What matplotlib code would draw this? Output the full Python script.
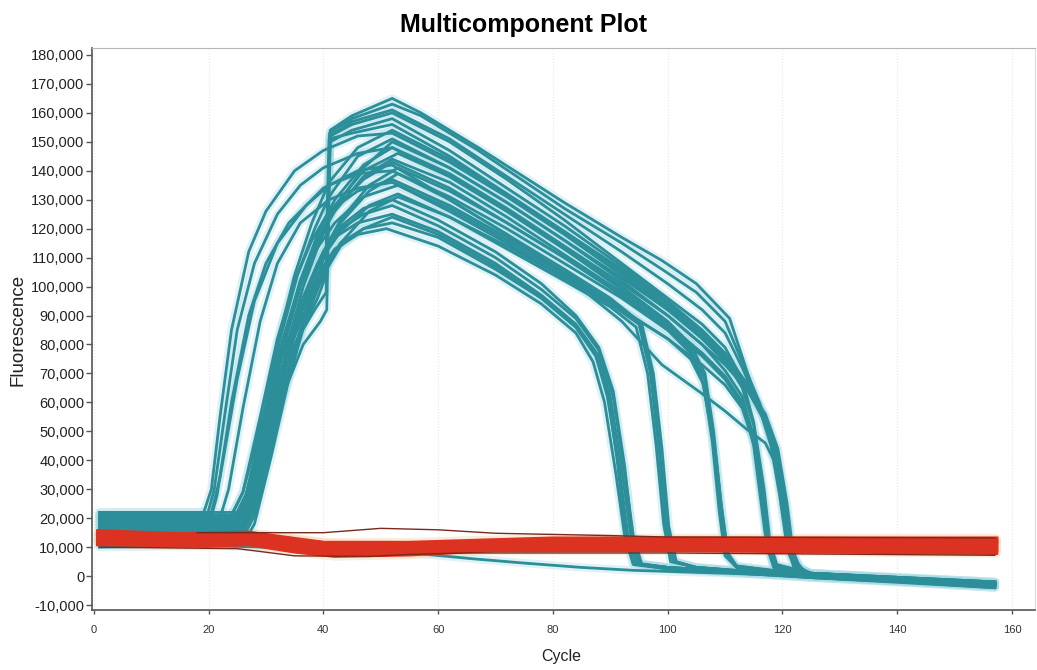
import matplotlib.pyplot as plt
from matplotlib.ticker import FuncFormatter

plt.rcParams['font.family'] = ['Liberation Sans', 'DejaVu Sans']

# every curve is a list of (cycle, fluorescence in thousands) points

# amplified wells that collapse near cycle 92-95
group_a_curves = [
    [(1, 16), (25, 16), (27, 22), (30, 45), (33, 70), (36, 90), (39, 104), (42, 113), (46, 118), (51, 120), (60, 114), (70, 104), (78, 94), (84, 84), (87, 74), (89, 60), (91, 35), (92.5, 14), (94, 4), (100, 2.5), (125, -0.5), (157, -3.5)],
    [(1, 18), (26, 18), (28, 25), (31, 48), (34, 72), (37, 92), (40, 106), (43, 115), (47, 120), (52, 122), (60, 117), (70, 106), (78, 96), (84, 86), (87.5, 76), (89.5, 62), (91.5, 38), (93, 15), (94.5, 4.5), (100, 3), (125, 0), (157, -3)],
    [(1, 14), (25, 14), (27, 21), (30, 46), (33, 73), (36, 94), (39, 108), (42, 117), (46, 122), (52, 125), (60, 119), (70, 108), (78, 97), (84, 87), (88, 76), (90, 62), (92, 37), (93.5, 15), (95, 4), (100, 2.5), (125, -0.5), (157, -4)],
    [(1, 20), (26, 20), (28, 28), (31, 52), (34, 78), (37, 98), (40, 112), (43, 120), (47, 125), (52, 128), (60, 121), (70, 110), (78, 99), (84, 89), (88, 78), (90.5, 62), (92.5, 36), (94, 14), (95.5, 4), (100, 3), (125, 0), (157, -2.5)],
    [(1, 11), (26, 11), (28, 18), (31, 42), (34, 68), (37, 89), (40, 104), (43, 114), (47, 120), (52, 124), (60, 118), (70, 107), (78, 96), (84, 86), (87.5, 76), (89.5, 64), (91.2, 40), (92.6, 16), (94, 4.5), (100, 3), (125, 0), (157, -4)],
    [(1, 17), (25.5, 17), (27.5, 24), (30.5, 48), (33.5, 74), (36.5, 95), (39.5, 110), (42.5, 120), (47, 127), (52, 130), (60, 123), (70, 112), (78, 101), (84, 90), (88, 79), (90.5, 64), (92.5, 38), (93.8, 15), (95.3, 4), (100, 3), (125, 0), (157, -3)],
]

# collapse near cycle 98-101
group_b_curves = [
    [(1, 17), (20, 17), (21.5, 28), (24, 60), (27, 90), (30, 108), (34, 122), (40, 134), (46, 140), (52, 142), (62, 130), (72, 118), (82, 106), (90, 96), (95, 88), (97, 72), (98.5, 45), (99.8, 18), (101, 5), (105, 3), (125, 0), (157, -3)],
    [(1, 19), (24.5, 19), (26.5, 27), (29.5, 52), (32.5, 78), (35.5, 98), (38.5, 112), (42, 122), (47, 131), (53, 135), (62, 126), (72, 115), (82, 103), (90, 94), (95, 87), (97, 70), (98.5, 44), (99.7, 17), (101, 5), (105, 3), (125, 0), (157, -2.5)],
    [(1, 15), (25.5, 15), (27.5, 22), (30.5, 47), (33.5, 74), (36.5, 95), (39.5, 109), (43, 119), (48, 128), (53, 132), (62, 124), (72, 113), (82, 102), (90, 93), (94.5, 86), (96.5, 70), (98, 45), (99.3, 18), (100.5, 5), (105, 3), (125, -0.5), (157, -3.5)],
    [(1, 21), (24, 21), (26, 29), (29, 55), (32, 82), (35, 102), (38, 116), (41, 126), (46, 133), (52, 137), (62, 128), (72, 117), (82, 105), (90, 95), (95.5, 87), (97.5, 70), (99, 44), (100.2, 17), (101.5, 5), (105, 3), (125, 0), (157, -2.5)],
]

# collapse near cycle 109-111
group_c_curves = [
    [(1, 19), (19.5, 19), (21, 30), (23, 58), (25, 85), (28, 108), (32, 125), (36, 135), (40, 141), (46, 146), (52, 148), (62, 138), (72, 126), (82, 113), (92, 100), (100, 88), (104, 80), (106.5, 70), (108, 50), (109.3, 25), (110.5, 8), (112, 3.5), (125, 0.5), (157, -2.5)],
    [(1, 21), (25, 21), (27, 29), (30, 55), (33, 82), (36, 102), (39, 116), (42, 127), (47, 137), (52, 143), (62, 134), (72, 122), (82, 110), (92, 97), (100, 86), (104, 78), (106.5, 68), (108, 48), (109.5, 22), (110.5, 7), (112, 3.5), (125, 0), (157, -3)],
    [(1, 17), (26, 17), (28, 24), (31, 50), (34, 77), (37, 97), (40, 111), (43, 122), (48, 133), (53, 139), (62, 131), (72, 120), (82, 108), (92, 96), (100, 85), (104, 77), (106, 68), (107.8, 48), (109.2, 22), (110.3, 7), (112, 3), (125, 0), (157, -3.5)],
    [(1, 20), (22, 20), (23.5, 30), (26, 58), (29, 88), (32, 108), (36, 122), (41, 130), (46, 134), (52, 136), (62, 127), (72, 116), (82, 104), (92, 92), (100, 82), (104, 75), (106.3, 66), (107.8, 46), (109, 22), (110, 7), (112, 3), (125, 0), (157, -3)],
]

# collapse near cycle 116-119
group_d_curves = [
    [(1, 21), (19, 21), (20.5, 30), (22, 55), (24, 85), (27, 112), (30, 126), (35, 140), (40, 147), (46, 152), (52, 153), (62, 143), (72, 131), (82, 118), (92, 104), (100, 92), (106, 83), (110, 75), (113, 65), (115, 52), (116.5, 30), (117.5, 12), (118.5, 4), (125, 1), (157, -2)],
    [(1, 18), (24.5, 18), (26.5, 26), (29.5, 53), (32.5, 82), (35.5, 104), (38.5, 120), (41, 131), (46, 145), (52, 151), (62, 141), (72, 129), (82, 116), (92, 102), (100, 90), (106, 80), (110, 71), (113, 62), (115, 48), (116.5, 26), (117.5, 10), (118.5, 3.5), (125, 0.5), (157, -2.5)],
    [(1, 16), (25, 16), (27, 24), (30, 50), (33, 78), (36, 100), (39, 116), (42, 128), (47, 140), (53, 146), (62, 138), (72, 126), (82, 113), (92, 99), (100, 87), (106, 77), (110, 69), (113, 60), (115, 45), (116.3, 25), (117.3, 10), (118.5, 3), (125, 0), (157, -3)],
    [(1, 20), (25, 20), (27, 28), (30, 50), (33, 70), (36, 84), (39, 96), (40.5, 104), (41.2, 152), (45, 156), (52, 160), (62, 150), (72, 137), (82, 123), (92, 108), (100, 96), (106, 87), (110, 79), (113, 68), (115, 53), (116.8, 30), (117.8, 12), (119, 4), (125, 1), (157, -2)],
    [(1, 13), (26, 13), (28, 21), (31, 45), (34, 70), (37, 90), (40, 104), (43, 115), (48, 126), (53, 131), (62, 124), (72, 114), (82, 103), (92, 92), (100, 82), (106, 73), (110, 66), (113, 58), (115, 46), (116.5, 26), (117.5, 10), (118.5, 3), (125, 0), (157, -3.5)],
    [(1, 19), (25, 19), (27, 27), (30, 52), (33, 80), (36, 101), (39, 116), (42, 126), (47, 138), (52, 144), (62, 136), (72, 124), (82, 111), (92, 98), (100, 86), (106, 77), (110, 69), (113, 60), (115.3, 46), (116.8, 26), (117.8, 10), (119, 3), (125, 0.5), (157, -3)],
    [(1, 15), (26, 15), (28, 23), (31, 49), (34, 76), (37, 97), (40, 112), (43, 123), (48, 135), (53, 141), (62, 133), (72, 122), (82, 110), (92, 97), (100, 85), (106, 76), (110, 68), (113, 59), (115.2, 45), (116.6, 25), (117.6, 10), (118.8, 3), (125, 0), (157, -3.5)],
]

# collapse near cycle 120-123
group_e_curves = [
    [(1, 22), (25, 22), (27, 30), (30, 52), (33, 72), (36, 88), (39, 100), (40.5, 108), (41.2, 154), (45, 159), (52, 165), (57, 160), (67, 148), (82, 129), (92, 117), (99, 109), (105, 101), (110.8, 89), (113.6, 72), (116, 58), (118, 45), (119.5, 28), (120.8, 10), (122, 3), (125, 1), (157, -2)],
    [(1, 19), (24.5, 19), (26.5, 27), (29.5, 50), (32.5, 70), (35.5, 86), (38.5, 98), (40.5, 105), (41.1, 153), (45, 158), (52, 163), (57, 159), (67, 147), (82, 127), (92, 115), (99, 106), (105, 98), (110, 88), (113, 74), (116, 60), (118.5, 45), (120, 28), (121.2, 10), (122.5, 3), (125, 1), (157, -2.5)],
    [(1, 17), (25.5, 17), (27.5, 24), (30.5, 45), (33.5, 65), (36.5, 80), (39.5, 88), (40.6, 92), (41.2, 150), (45, 154), (52, 158), (62, 147), (72, 134), (82, 121), (92, 107), (100, 95), (106, 85), (110, 77), (114, 66), (117, 55), (119, 40), (120.5, 22), (121.5, 8), (123, 3), (125, 0.5), (157, -3)],
    [(1, 21), (24, 21), (26, 29), (29, 52), (32, 72), (35, 87), (38, 98), (40.5, 112), (41, 151), (45, 153), (52, 156), (62, 145), (72, 132), (82, 119), (92, 106), (100, 94), (106, 84), (110, 76), (114, 64), (117, 53), (119, 38), (120.3, 20), (121.3, 7), (122.5, 3), (125, 0.5), (157, -2)],
    [(1, 22), (20.5, 22), (22, 34), (25, 68), (28, 95), (32, 115), (37, 128), (41, 135), (46, 139), (52, 140), (62, 130), (72, 118), (82, 104), (92, 88), (99, 73), (106, 63), (110, 57), (113.6, 51), (117, 46), (119.5, 36), (121, 18), (122, 6), (123.5, 2.5), (125, 0.5), (157, -2.5)],
    [(1, 18), (25, 18), (27, 26), (30, 52), (33, 80), (36, 102), (39, 118), (42, 130), (47, 142), (52, 148), (62, 139), (72, 127), (82, 114), (92, 101), (100, 90), (106, 80), (110, 73), (114, 64), (117, 55), (119, 44), (120.5, 26), (121.5, 10), (122.8, 3), (125, 0.5), (157, -3)],
    [(1, 15), (24, 15), (26, 23), (29, 50), (32, 80), (35, 104), (38, 122), (41, 136), (46, 148), (52, 154), (62, 144), (72, 132), (82, 119), (92, 105), (100, 93), (106, 83), (110, 75), (114, 64), (117, 54), (119, 42), (120.3, 24), (121.3, 9), (122.5, 3), (125, 0.5), (157, -3.5)],
    [(1, 16), (25.5, 16), (27.5, 24), (30.5, 50), (33.5, 78), (36.5, 100), (39.5, 116), (42, 127), (47, 141), (52, 150), (62, 141), (72, 129), (82, 116), (92, 103), (100, 92), (106, 82), (110, 74), (114, 65), (117, 56), (119.2, 44), (120.8, 25), (121.8, 9), (123, 3), (125, 0.5), (157, -2.5)],
    [(1, 20), (24.5, 20), (26.5, 28), (29.5, 50), (32.5, 68), (35.5, 82), (38.5, 92), (40.5, 98), (41.2, 152), (45, 157), (52, 161), (62, 151), (72, 138), (82, 125), (92, 112), (100, 101), (106, 92), (110, 84), (113, 72), (116, 58), (118.5, 44), (120, 27), (121.2, 10), (122.5, 3), (125, 1), (157, -2.5)],
]

# well that never amplified
flat_teal_curves = [
    [(1, 10), (20, 10.5), (30, 10), (40, 9.5), (50, 9), (58, 7.5), (66, 6), (75, 4.5), (85, 3), (94, 2), (110, 1), (125, 0), (157, -3)],
]

# second dye, the red band
red_curves = [
    [(1, 14), (20, 13.5), (27, 13), (35, 11), (42, 9.5), (55, 9.5), (70, 11), (100, 11.5), (157, 11)],
    [(1, 12.5), (20, 12), (27, 12.5), (35, 10), (42, 8.5), (55, 8.5), (70, 10), (100, 10.5), (157, 9.5)],
    [(1, 11.5), (20, 11), (27, 11.5), (35, 9), (42, 7.5), (55, 8), (70, 9.5), (100, 9.5), (157, 8.5)],
    [(1, 13), (20, 12.5), (27, 14), (35, 12), (42, 10.5), (55, 10), (70, 11), (100, 12), (157, 12)],
    [(1, 15), (15, 14), (27, 14.5), (40, 11), (55, 11), (80, 12.5), (157, 12.5)],
]
red_outline_curves = [
    [(18, 15), (27, 15), (40, 15), (50, 16.5), (60, 16), (70, 14.8), (90, 14), (100, 13.5), (157, 13.2)],
    [(1, 10), (25, 9.5), (35, 7), (48, 6.8), (55, 7.5), (65, 8), (100, 8), (157, 7.2)],
]

x_ticks = [0, 20, 40, 60, 80, 100, 120, 140, 160]
y_ticks = list(range(-10000, 180001, 10000))

teal = '#2b8e98'
teal_halo = '#a8dce6'
red = '#dc3222'


def draw(ax, curves, color, lw, halo=None, halo_lw=0, halo_alpha=0.3):
    for c in curves:
        xs = [p[0] for p in c]
        ys = [p[1] * 1000 for p in c]
        if halo:
            ax.plot(xs, ys, color=halo, lw=halo_lw, alpha=halo_alpha, solid_capstyle='round',
                    solid_joinstyle='round', zorder=1)
        ax.plot(xs, ys, color=color, lw=lw, solid_joinstyle='round', zorder=2)


fig = plt.figure(figsize=(10.37, 6.70), dpi=100)
ax = fig.add_axes([92 / 1037, 1 - 610 / 670, (1035 - 92) / 1037, (610 - 48) / 670])

for group in [group_a_curves, group_b_curves, group_c_curves, group_d_curves, group_e_curves, flat_teal_curves]:
    draw(ax, group, teal, 2.0, halo=teal_halo, halo_lw=6, halo_alpha=0.35)

draw(ax, red_curves, red, 5, halo='#f6d8b8', halo_lw=9, halo_alpha=0.5)
draw(ax, red_outline_curves, '#7a2a1c', 1.0)

ax.set_xlim(-0.3, 164)
ax.set_ylim(-11700, 182400)
ax.set_xticks(x_ticks)
ax.set_yticks(y_ticks)
ax.yaxis.set_major_formatter(FuncFormatter(lambda v, p: f'{v:,.0f}'))
ax.xaxis.grid(True, color='#e8e8e8', linestyle=':', lw=0.8)

for side in ['left', 'bottom']:
    ax.spines[side].set_color('#555555')
    ax.spines[side].set_linewidth(1.2)
ax.spines['top'].set_color('#b5b5b5')
ax.spines['right'].set_color('#dddddd')

ax.tick_params(axis='y', direction='out', length=4, width=1, colors='#555555', labelcolor='#222222', labelsize=10.5, pad=1.5)
ax.tick_params(axis='x', direction='out', length=3, width=1, colors='#555555', labelcolor='#333333', labelsize=8, pad=8)

fig.text(0.505, 0.963, 'Multicomponent Plot', ha='center', va='center', fontsize=18, fontweight='bold')
fig.text(18 / 1037, 0.507, 'Fluorescence', rotation=90, ha='center', va='center', fontsize=13.5, color='#222222')
fig.text(561 / 1037, 1 - 657 / 670, 'Cycle', ha='center', va='center', fontsize=11.5, color='#222222')

fig.savefig('out.png', dpi=100)
